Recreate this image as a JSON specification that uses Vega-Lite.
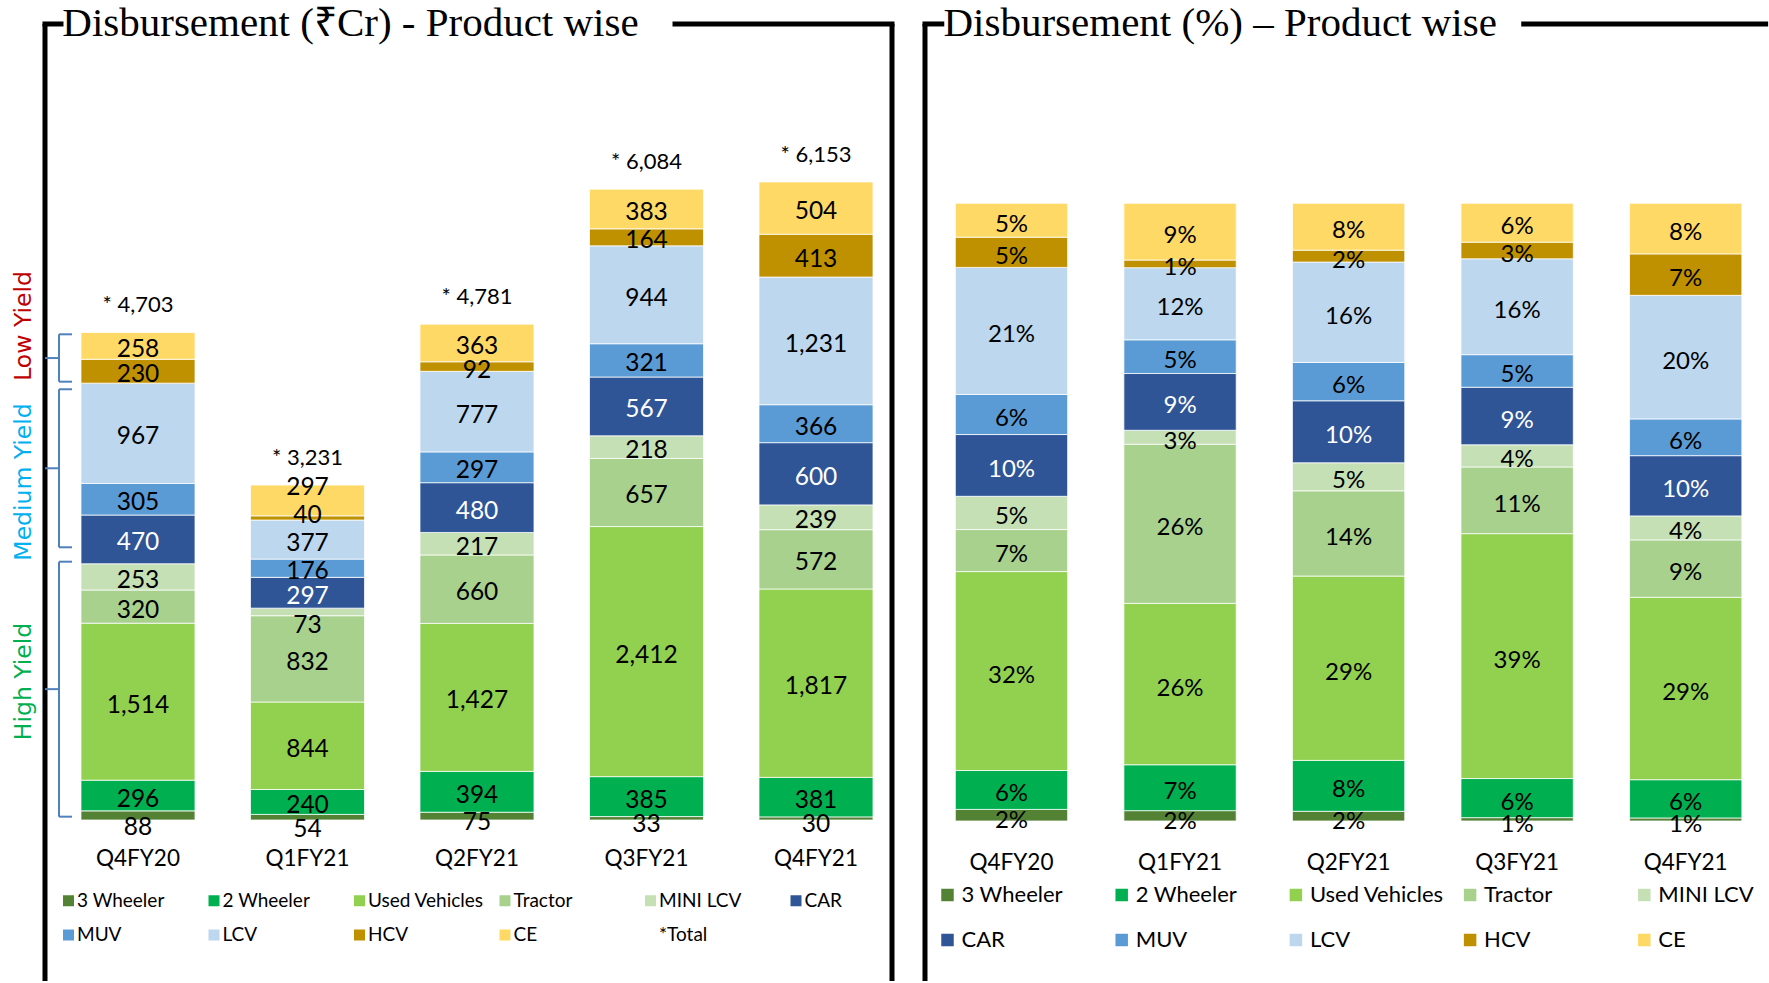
{
  "$schema": "https://vega.github.io/schema/vega-lite/v6.json",
  "padding": 0,
  "spacing": 0,
  "bounds": "flush",
  "background": "white",
  "config": {"view": {"stroke": null}, "font": "Lato"},
  "datasets": {
    "disb": [
      {"quarter": "Q4FY20", "product": "3 Wheeler", "rank": 1, "amount": 88, "pct": 0.02},
      {"quarter": "Q4FY20", "product": "2 Wheeler", "rank": 2, "amount": 296, "pct": 0.06},
      {"quarter": "Q4FY20", "product": "Used Vehicles", "rank": 3, "amount": 1514, "pct": 0.32},
      {"quarter": "Q4FY20", "product": "Tractor", "rank": 4, "amount": 320, "pct": 0.07},
      {"quarter": "Q4FY20", "product": "MINI LCV", "rank": 5, "amount": 253, "pct": 0.05},
      {"quarter": "Q4FY20", "product": "CAR", "rank": 6, "amount": 470, "pct": 0.10},
      {"quarter": "Q4FY20", "product": "MUV", "rank": 7, "amount": 305, "pct": 0.06},
      {"quarter": "Q4FY20", "product": "LCV", "rank": 8, "amount": 967, "pct": 0.21},
      {"quarter": "Q4FY20", "product": "HCV", "rank": 9, "amount": 230, "pct": 0.05},
      {"quarter": "Q4FY20", "product": "CE", "rank": 10, "amount": 258, "pct": 0.05},
      {"quarter": "Q1FY21", "product": "3 Wheeler", "rank": 1, "amount": 54, "pct": 0.02},
      {"quarter": "Q1FY21", "product": "2 Wheeler", "rank": 2, "amount": 240, "pct": 0.07},
      {"quarter": "Q1FY21", "product": "Used Vehicles", "rank": 3, "amount": 844, "pct": 0.26},
      {"quarter": "Q1FY21", "product": "Tractor", "rank": 4, "amount": 832, "pct": 0.26},
      {"quarter": "Q1FY21", "product": "MINI LCV", "rank": 5, "amount": 73, "pct": 0.03},
      {"quarter": "Q1FY21", "product": "CAR", "rank": 6, "amount": 297, "pct": 0.09},
      {"quarter": "Q1FY21", "product": "MUV", "rank": 7, "amount": 176, "pct": 0.05},
      {"quarter": "Q1FY21", "product": "LCV", "rank": 8, "amount": 377, "pct": 0.12},
      {"quarter": "Q1FY21", "product": "HCV", "rank": 9, "amount": 40, "pct": 0.01},
      {"quarter": "Q1FY21", "product": "CE", "rank": 10, "amount": 297, "pct": 0.09},
      {"quarter": "Q2FY21", "product": "3 Wheeler", "rank": 1, "amount": 75, "pct": 0.02},
      {"quarter": "Q2FY21", "product": "2 Wheeler", "rank": 2, "amount": 394, "pct": 0.08},
      {"quarter": "Q2FY21", "product": "Used Vehicles", "rank": 3, "amount": 1427, "pct": 0.29},
      {"quarter": "Q2FY21", "product": "Tractor", "rank": 4, "amount": 660, "pct": 0.14},
      {"quarter": "Q2FY21", "product": "MINI LCV", "rank": 5, "amount": 217, "pct": 0.05},
      {"quarter": "Q2FY21", "product": "CAR", "rank": 6, "amount": 480, "pct": 0.10},
      {"quarter": "Q2FY21", "product": "MUV", "rank": 7, "amount": 297, "pct": 0.06},
      {"quarter": "Q2FY21", "product": "LCV", "rank": 8, "amount": 777, "pct": 0.16},
      {"quarter": "Q2FY21", "product": "HCV", "rank": 9, "amount": 92, "pct": 0.02},
      {"quarter": "Q2FY21", "product": "CE", "rank": 10, "amount": 363, "pct": 0.08},
      {"quarter": "Q3FY21", "product": "3 Wheeler", "rank": 1, "amount": 33, "pct": 0.01},
      {"quarter": "Q3FY21", "product": "2 Wheeler", "rank": 2, "amount": 385, "pct": 0.06},
      {"quarter": "Q3FY21", "product": "Used Vehicles", "rank": 3, "amount": 2412, "pct": 0.39},
      {"quarter": "Q3FY21", "product": "Tractor", "rank": 4, "amount": 657, "pct": 0.11},
      {"quarter": "Q3FY21", "product": "MINI LCV", "rank": 5, "amount": 218, "pct": 0.04},
      {"quarter": "Q3FY21", "product": "CAR", "rank": 6, "amount": 567, "pct": 0.09},
      {"quarter": "Q3FY21", "product": "MUV", "rank": 7, "amount": 321, "pct": 0.05},
      {"quarter": "Q3FY21", "product": "LCV", "rank": 8, "amount": 944, "pct": 0.16},
      {"quarter": "Q3FY21", "product": "HCV", "rank": 9, "amount": 164, "pct": 0.03},
      {"quarter": "Q3FY21", "product": "CE", "rank": 10, "amount": 383, "pct": 0.06},
      {"quarter": "Q4FY21", "product": "3 Wheeler", "rank": 1, "amount": 30, "pct": 0.01},
      {"quarter": "Q4FY21", "product": "2 Wheeler", "rank": 2, "amount": 381, "pct": 0.06},
      {"quarter": "Q4FY21", "product": "Used Vehicles", "rank": 3, "amount": 1817, "pct": 0.29},
      {"quarter": "Q4FY21", "product": "Tractor", "rank": 4, "amount": 572, "pct": 0.09},
      {"quarter": "Q4FY21", "product": "MINI LCV", "rank": 5, "amount": 239, "pct": 0.04},
      {"quarter": "Q4FY21", "product": "CAR", "rank": 6, "amount": 600, "pct": 0.10},
      {"quarter": "Q4FY21", "product": "MUV", "rank": 7, "amount": 366, "pct": 0.06},
      {"quarter": "Q4FY21", "product": "LCV", "rank": 8, "amount": 1231, "pct": 0.20},
      {"quarter": "Q4FY21", "product": "HCV", "rank": 9, "amount": 413, "pct": 0.07},
      {"quarter": "Q4FY21", "product": "CE", "rank": 10, "amount": 504, "pct": 0.08}
    ],
    "totals": [
      {"quarter": "Q4FY20", "total": 4703, "label": "* 4,703"},
      {"quarter": "Q1FY21", "total": 3231, "label": "* 3,231"},
      {"quarter": "Q2FY21", "total": 4781, "label": "* 4,781"},
      {"quarter": "Q3FY21", "total": 6084, "label": "* 6,084"},
      {"quarter": "Q4FY21", "total": 6153, "label": "* 6,153"}
    ],
    "braces": [
      {"group": "Low Yield", "lo": 4227, "hi": 4684, "mid": 4455, "center": 4764},
      {"group": "Medium Yield", "lo": 2630, "hi": 4154, "mid": 3392, "center": 3260},
      {"group": "High Yield", "lo": 32, "hi": 2491, "mid": 1262, "center": 1336}
    ],
    "one": [{}]
  },
  "resolve": {"scale": {"color": "independent"}, "legend": {"color": "independent"}},
  "hconcat": [
    {
      "width": 909,
      "height": 983,
      "resolve": {"scale": {"x": "independent"}, "axis": {"x": "independent"}},
      "layer": [
        {
          "layer": [
            {
              "data": {"name": "one"},
              "mark": {"type": "rule", "stroke": "black", "strokeWidth": 5, "strokeCap": "butt"},
              "encoding": {
                "x": {"datum": 4.95, "type": "quantitative", "scale": {"domain": [0, 100], "nice": false, "zero": false}, "axis": null},
                "y": {"datum": 7676.7, "type": "quantitative", "scale": {"domain": [-1572, 7908], "nice": false, "zero": false}, "axis": null},
                "y2": {"datum": -1552.7}
              }
            },
            {
              "data": {"name": "one"},
              "mark": {"type": "rule", "stroke": "black", "strokeWidth": 5, "strokeCap": "butt"},
              "encoding": {
                "x": {"datum": 98.13, "type": "quantitative"},
                "y": {"datum": 7676.7, "type": "quantitative"},
                "y2": {"datum": -1552.7}
              }
            },
            {
              "data": {"name": "one"},
              "mark": {"type": "rule", "stroke": "black", "strokeWidth": 5, "strokeCap": "square"},
              "encoding": {
                "x": {"datum": 4.95, "type": "quantitative"},
                "x2": {"datum": 6.71},
                "y": {"datum": 7676.7, "type": "quantitative"}
              }
            },
            {
              "data": {"name": "one"},
              "mark": {"type": "rule", "stroke": "black", "strokeWidth": 5, "strokeCap": "square"},
              "encoding": {
                "x": {"datum": 74.26, "type": "quantitative"},
                "x2": {"datum": 98.13},
                "y": {"datum": 7676.7, "type": "quantitative"}
              }
            },
            {
              "data": {"name": "one"},
              "mark": {"type": "text", "font": "Liberation Serif", "fontSize": 41, "align": "left", "baseline": "middle", "color": "black"},
              "encoding": {
                "x": {"datum": 6.85, "type": "quantitative"},
                "y": {"datum": 7676.7, "type": "quantitative"},
                "text": {"value": "Disbursement (₹Cr) - Product wise"}
              }
            },
            {
              "data": {"name": "braces"},
              "mark": {"type": "rule", "stroke": "#4F81BD", "strokeWidth": 2},
              "encoding": {
                "x": {"datum": 6.49, "type": "quantitative"},
                "y": {"field": "lo", "type": "quantitative"},
                "y2": {"field": "hi"}
              }
            },
            {
              "data": {"name": "braces"},
              "mark": {"type": "rule", "stroke": "#4F81BD", "strokeWidth": 2},
              "encoding": {
                "x": {"datum": 6.49, "type": "quantitative"},
                "x2": {"datum": 7.92},
                "y": {"field": "hi", "type": "quantitative"}
              }
            },
            {
              "data": {"name": "braces"},
              "mark": {"type": "rule", "stroke": "#4F81BD", "strokeWidth": 2},
              "encoding": {
                "x": {"datum": 6.49, "type": "quantitative"},
                "x2": {"datum": 7.92},
                "y": {"field": "lo", "type": "quantitative"}
              }
            },
            {
              "data": {"name": "braces"},
              "mark": {"type": "rule", "stroke": "#4F81BD", "strokeWidth": 2},
              "encoding": {
                "x": {"datum": 4.95, "type": "quantitative"},
                "x2": {"datum": 6.49},
                "y": {"field": "mid", "type": "quantitative"}
              }
            },
            {
              "data": {"name": "braces"},
              "mark": {"type": "text", "font": "DejaVu Sans", "fontSize": 23.5, "angle": 270, "align": "center", "baseline": "middle"},
              "encoding": {
                "x": {"datum": 2.64, "type": "quantitative"},
                "y": {"field": "center", "type": "quantitative"},
                "text": {"field": "group"},
                "color": {
                  "condition": [
                    {"test": "datum.group === 'Low Yield'", "value": "#C00000"},
                    {"test": "datum.group === 'Medium Yield'", "value": "#00B0F0"}
                  ],
                  "value": "#00B050"
                }
              }
            }
          ]
        },
        {
          "layer": [
            {
              "data": {"name": "disb"},
              "transform": [
                {"stack": "amount", "groupby": ["quarter"], "sort": [{"field": "rank", "order": "ascending"}], "as": ["y0", "y1"]}
              ],
              "mark": {"type": "bar", "stroke": "white", "strokeWidth": 0.75},
              "encoding": {
                "x": {
                  "field": "quarter", "type": "nominal",
                  "scale": {"type": "band", "domain": ["Q4FY20", "Q1FY21", "Q2FY21", "Q3FY21", "Q4FY21"], "paddingInner": 0.32743, "paddingOuter": 0.34513, "align": 0.6923},
                  "axis": {"orient": "bottom", "offset": -125, "title": null, "domain": false, "ticks": false, "tickSize": 0, "labelPadding": 0, "labelBaseline": "middle", "labelAngle": 0, "labelFont": "Lato", "labelFontSize": 22.5, "labelColor": "black"}
                },
                "y": {"field": "y0", "type": "quantitative", "scale": {"domain": [-1572, 7908], "nice": false, "zero": false}, "axis": null},
                "y2": {"field": "y1"},
                "color": {
                  "field": "product", "type": "nominal",
                  "scale": {
                    "domain": ["3 Wheeler", "2 Wheeler", "Used Vehicles", "Tractor", "MINI LCV", "CAR", "MUV", "LCV", "HCV", "CE", "*Total"],
                    "range": ["#548235", "#00B050", "#92D050", "#A9D18E", "#C5E0B4", "#2F5597", "#5B9BD5", "#BDD7EE", "#BF9000", "#FFD966", "#FFFFFF"]
                  },
                  "legend": {
                    "orient": "none", "legendX": 59, "legendY": 891, "direction": "horizontal", "columns": 6, "title": null,
                    "symbolType": "square", "symbolSize": 121, "symbolStrokeWidth": 0, "symbolOpacity": 1,
                    "labelFont": "Lato", "labelFontSize": 19, "labelColor": "black", "labelOffset": -1,
                    "columnPadding": 11.5, "rowPadding": 14.5, "gridAlign": "all", "labelLimit": 300
                  }
                }
              }
            },
            {
              "data": {"name": "disb"},
              "transform": [
                {"stack": "amount", "groupby": ["quarter"], "sort": [{"field": "rank", "order": "ascending"}], "as": ["y0", "y1"]},
                {"fold": ["y0", "y1"], "as": ["edge", "pos"]},
                {"aggregate": [{"op": "mean", "field": "pos", "as": "mid"}], "groupby": ["quarter", "product", "amount"]}
              ],
              "encoding": {
                "x": {"field": "quarter", "type": "nominal"},
                "y": {"field": "mid", "type": "quantitative"},
                "text": {"field": "amount", "type": "quantitative", "format": ","},
                "color": {"condition": {"test": "datum.product === 'CAR'", "value": "white"}, "value": "black"}
              },
              "layer": [
                {
                  "transform": [{"filter": "datum.product !== '3 Wheeler' && !(datum.quarter === 'Q1FY21' && (datum.product === 'CE' || datum.product === 'MINI LCV' || datum.product === 'HCV'))"}],
                  "mark": {"type": "text", "font": "Lato", "fontSize": 24.5, "baseline": "middle", "dy": 4}
                },
                {
                  "transform": [{"filter": "datum.product === '3 Wheeler' && (datum.quarter === 'Q4FY20' || datum.quarter === 'Q1FY21')"}],
                  "mark": {"type": "text", "font": "Lato", "fontSize": 24.5, "baseline": "middle", "dy": 13}
                },
                {
                  "transform": [{"filter": "datum.product === '3 Wheeler' && datum.quarter !== 'Q4FY20' && datum.quarter !== 'Q1FY21'"}],
                  "mark": {"type": "text", "font": "Lato", "fontSize": 24.5, "baseline": "middle", "dy": 7}
                },
                {
                  "transform": [{"filter": "datum.quarter === 'Q1FY21' && datum.product === 'CE'"}],
                  "mark": {"type": "text", "font": "Lato", "fontSize": 24.5, "baseline": "middle", "dy": -12}
                },
                {
                  "transform": [{"filter": "datum.quarter === 'Q1FY21' && datum.product === 'HCV'"}],
                  "mark": {"type": "text", "font": "Lato", "fontSize": 24.5, "baseline": "middle", "dy": -2}
                },
                {
                  "transform": [{"filter": "datum.quarter === 'Q1FY21' && datum.product === 'MINI LCV'"}],
                  "mark": {"type": "text", "font": "Lato", "fontSize": 24.5, "baseline": "middle", "dy": 14}
                }
              ]
            },
            {
              "data": {"name": "totals"},
              "mark": {"type": "text", "font": "Lato", "fontSize": 22, "baseline": "middle", "dy": -27, "color": "black"},
              "encoding": {
                "x": {"field": "quarter", "type": "nominal"},
                "y": {"field": "total", "type": "quantitative"},
                "text": {"field": "label"}
              }
            }
          ]
        }
      ]
    },
    {
      "width": 860,
      "height": 983,
      "resolve": {"scale": {"x": "independent"}, "axis": {"x": "independent"}},
      "layer": [
        {
          "layer": [
            {
              "data": {"name": "one"},
              "mark": {"type": "rule", "stroke": "black", "strokeWidth": 5, "strokeCap": "butt"},
              "encoding": {
                "x": {"datum": 1.86, "type": "quantitative", "scale": {"domain": [0, 100], "nice": false, "zero": false}, "axis": null},
                "y": {"datum": 1.2903, "type": "quantitative", "scale": {"domain": [-0.2623, 1.3291], "nice": false, "zero": false}, "axis": null},
                "y2": {"datum": -0.259}
              }
            },
            {
              "data": {"name": "one"},
              "mark": {"type": "rule", "stroke": "black", "strokeWidth": 5, "strokeCap": "square"},
              "encoding": {
                "x": {"datum": 1.86, "type": "quantitative"},
                "x2": {"datum": 3.81},
                "y": {"datum": 1.2903, "type": "quantitative"}
              }
            },
            {
              "data": {"name": "one"},
              "mark": {"type": "rule", "stroke": "black", "strokeWidth": 5, "strokeCap": "butt"},
              "encoding": {
                "x": {"datum": 71.19, "type": "quantitative"},
                "x2": {"datum": 99.9},
                "y": {"datum": 1.2903, "type": "quantitative"}
              }
            },
            {
              "data": {"name": "one"},
              "mark": {"type": "text", "font": "Liberation Serif", "fontSize": 41, "align": "left", "baseline": "middle", "color": "black"},
              "encoding": {
                "x": {"datum": 4.01, "type": "quantitative"},
                "y": {"datum": 1.2903, "type": "quantitative"},
                "text": {"value": "Disbursement (%) – Product wise"}
              }
            }
          ]
        },
        {
          "layer": [
            {
              "data": {"name": "disb"},
              "transform": [
                {"stack": "amount", "groupby": ["quarter"], "offset": "normalize", "sort": [{"field": "rank", "order": "ascending"}], "as": ["y0", "y1"]}
              ],
              "mark": {"type": "bar", "stroke": "white", "strokeWidth": 0.75},
              "encoding": {
                "x": {
                  "field": "quarter", "type": "nominal",
                  "scale": {"type": "band", "domain": ["Q4FY20", "Q1FY21", "Q2FY21", "Q3FY21", "Q4FY21"], "paddingInner": 0.3337, "paddingOuter": 0.218, "align": 0.6306},
                  "axis": {"orient": "bottom", "offset": -121, "title": null, "domain": false, "ticks": false, "tickSize": 0, "labelPadding": 0, "labelBaseline": "middle", "labelAngle": 0, "labelFont": "Lato", "labelFontSize": 22.5, "labelColor": "black"}
                },
                "y": {"field": "y0", "type": "quantitative", "scale": {"domain": [-0.2623, 1.3291], "nice": false, "zero": false}, "axis": null},
                "y2": {"field": "y1"},
                "color": {
                  "field": "product", "type": "nominal",
                  "scale": {
                    "domain": ["3 Wheeler", "2 Wheeler", "Used Vehicles", "Tractor", "MINI LCV", "CAR", "MUV", "LCV", "HCV", "CE"],
                    "range": ["#548235", "#00B050", "#92D050", "#A9D18E", "#C5E0B4", "#2F5597", "#5B9BD5", "#BDD7EE", "#BF9000", "#FFD966"]
                  },
                  "legend": {
                    "orient": "none", "legendX": 27.5, "legendY": 884, "direction": "horizontal", "columns": 5, "title": null,
                    "symbolType": "square", "symbolSize": 156, "symbolStrokeWidth": 0, "symbolOpacity": 1,
                    "labelFont": "Lato", "labelFontSize": 22, "labelColor": "black", "labelOffset": 3,
                    "columnPadding": 14.2, "rowPadding": 23, "gridAlign": "all", "labelLimit": 300
                  }
                }
              }
            },
            {
              "data": {"name": "disb"},
              "transform": [
                {"stack": "amount", "groupby": ["quarter"], "offset": "normalize", "sort": [{"field": "rank", "order": "ascending"}], "as": ["y0", "y1"]},
                {"fold": ["y0", "y1"], "as": ["edge", "pos"]},
                {"aggregate": [{"op": "mean", "field": "pos", "as": "mid"}], "groupby": ["quarter", "product", "pct"]}
              ],
              "encoding": {
                "x": {"field": "quarter", "type": "nominal"},
                "y": {"field": "mid", "type": "quantitative"},
                "text": {"field": "pct", "type": "quantitative", "format": ".0%"},
                "color": {"condition": {"test": "datum.product === 'CAR'", "value": "white"}, "value": "black"}
              },
              "layer": [
                {
                  "transform": [{"filter": "datum.product !== '3 Wheeler'"}],
                  "mark": {"type": "text", "font": "Lato", "fontSize": 24, "baseline": "middle", "dy": 4.5}
                },
                {
                  "transform": [{"filter": "datum.product === '3 Wheeler'"}],
                  "mark": {"type": "text", "font": "Lato", "fontSize": 24, "baseline": "middle", "dy": 6}
                }
              ]
            }
          ]
        }
      ]
    }
  ]
}
